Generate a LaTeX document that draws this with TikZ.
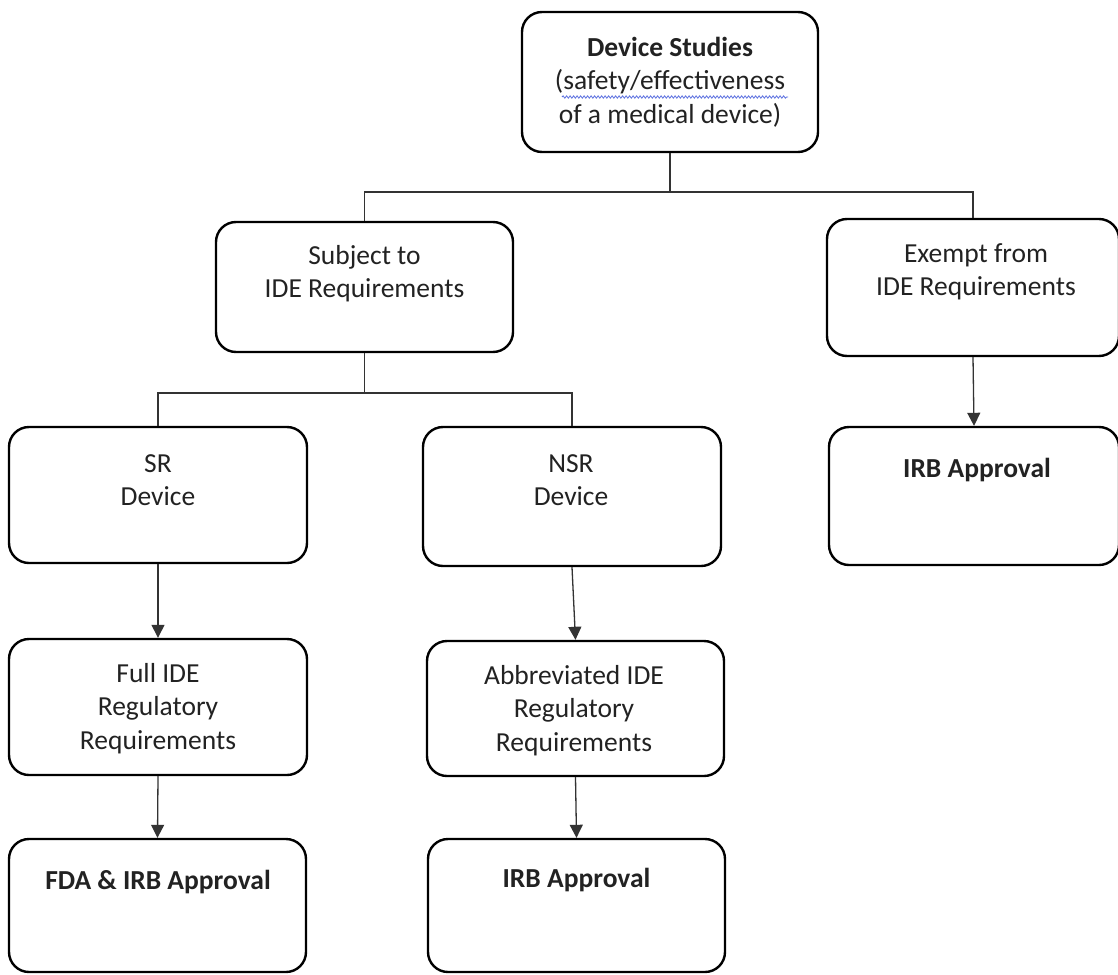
\documentclass[tikz,border=0pt]{standalone}
\usepackage{fontspec}
\setmainfont{Carlito}
\usetikzlibrary{arrows.meta,calc,decorations.pathmorphing}
\definecolor{txt}{HTML}{222222}
\definecolor{linec}{HTML}{333333}
\definecolor{spell}{HTML}{5A6FE0}
\begin{document}
\begin{tikzpicture}[x=1pt,y=-1pt,
  box/.style={draw=black, line width=2.4pt, rounded corners=20pt, rectangle, inner sep=0pt, fill=white},
  lbl/.style={anchor=north, inner sep=0pt, align=center, text=txt, font=\fontsize{27.5}{33.5}\selectfont},
  conn/.style={draw=linec, line width=1.3pt},
  arr/.style={draw=linec, line width=1.3pt, -{Triangle[length=13pt,width=13pt]}}
]
\useasboundingbox (0,0) rectangle (1118,974);
\fill[white] (0,0) rectangle (1118,974);

% boxes
\node[box, minimum width=296pt, minimum height=140pt] (top) at (670,82) {};
\node[box, minimum width=297pt, minimum height=130pt] (sub) at (364.5,287) {};
\node[box, minimum width=292pt, minimum height=137pt] (exm) at (973,287.5) {};
\node[box, minimum width=290pt, minimum height=138pt] (irbR) at (974,496) {};
\node[box, minimum width=298pt, minimum height=136pt] (sr) at (158,495) {};
\node[box, minimum width=298pt, minimum height=139pt] (nsr) at (572,496.5) {};
\node[box, minimum width=298pt, minimum height=136pt] (full) at (158,707) {};
\node[box, minimum width=297pt, minimum height=135pt] (abb) at (575.5,708.5) {};
\node[box, minimum width=297pt, minimum height=133pt] (fda) at (157.5,905.5) {};
\node[box, minimum width=297pt, minimum height=133pt] (irbM) at (576.5,905.5) {};

% texts (first baseline = box top + offset; strut height 23.45)
\node[lbl] (topT) at ($(top.north)+(0,45-23.45)$) {\strut\textbf{Device Studies}\\(safety/effectiveness\\of a medical device)};
\node[lbl] (subT) at ($(sub.north)+(0,43-23.45)$) {\strut Subject to\\IDE Requirements};
\node[lbl] (exmT) at ($(exm.north)+(3,44-23.45)$) {\strut Exempt from\\IDE Requirements};
\node[lbl] (irbRT) at ($(irbR.north)+(3,51-23.45)$) {\strut\textbf{IRB Approval}};
\node[lbl] (srT) at ($(sr.north)+(0,46-23.45)$) {\strut SR\\Device};
\node[lbl] (nsrT) at ($(nsr.north)+(-1,46-23.45)$) {\strut NSR\\Device};
\node[lbl] (fullT) at ($(full.north)+(0,44-23.45)$) {\strut Full IDE\\Regulatory\\Requirements};
\node[lbl] (abbT) at ($(abb.north)+(-1.5,44-23.45)$) {\strut Abbreviated IDE\\Regulatory\\Requirements};
\node[lbl] (fdaT) at ($(fda.north)+(0.5,51-23.45)$) {\strut\textbf{FDA \& IRB Approval}};
\node[lbl] (irbMT) at ($(irbM.north)+(0,49-23.45)$) {\strut\textbf{IRB Approval}};

% spell-check underline
\coordinate (wavL) at (562,97);
\coordinate (wavR) at (788,97);
\draw[spell, line width=0.8pt, decorate, decoration={snake, amplitude=1.2pt, segment length=3.5pt}] (wavL) -- (wavR);

% connectors
\coordinate (bus1) at (0,192);
\coordinate (bus2) at (0,393);
\draw[conn] (top.south) -- (top.south |- bus1);
\draw[conn] (sub.north) |- (exm.north |- bus1) -- (exm.north);
\draw[conn] (sub.south) -- (sub.south |- bus2);
\draw[conn] (sr.north) |- (nsr.north |- bus2) -- (nsr.north);

% arrows
\draw[arr] (exm.south) -- (irbR.north);
\draw[arr] (sr.south) -- (full.north);
\draw[arr] (nsr.south) -- (abb.north);
\draw[arr] (full.south) -- (fda.north);
\draw[arr] (abb.south) -- (irbM.north);
\end{tikzpicture}
\end{document}
